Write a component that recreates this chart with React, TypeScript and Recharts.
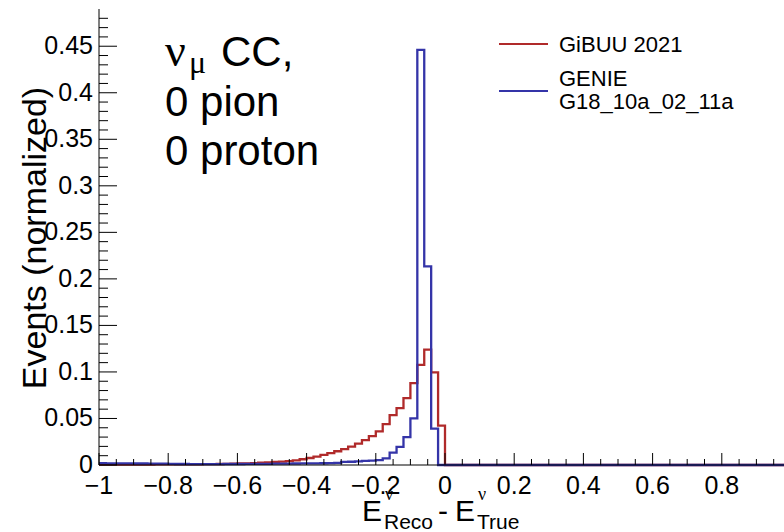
import React from "react";
import { LineChart, Line, XAxis, YAxis, Legend } from "recharts";

// histogram binning: 100 bins of width 0.02 between -1 and 1
const BIN_MIN = -1;
const BIN_MAX = 1;
const BIN_WIDTH = 0.02;

// GiBUU 2021, normalized bin contents (bin 0 starts at -1)
const gibuu = [
  0.0004, 0.0004, 0.0004, 0.0004, 0.0005, 0.0005, 0.0005, 0.0005, 0.0006, 0.0006,
  0.0006, 0.0007, 0.0007, 0.0008, 0.0008, 0.0009, 0.0010, 0.0011, 0.0012, 0.0014,
  0.0016, 0.0018, 0.0021, 0.0024, 0.0028, 0.0032, 0.0037, 0.0042, 0.0050, 0.0062,
  0.0075, 0.0090, 0.0108, 0.0128, 0.0148, 0.0170, 0.0198, 0.0230, 0.0268, 0.0310,
  0.0362, 0.0440, 0.0535, 0.0612, 0.0718, 0.0880, 0.1075, 0.1240, 0.0995, 0.0423,
  0, 0, 0, 0, 0, 0, 0, 0, 0, 0,
  0, 0, 0, 0, 0, 0, 0, 0, 0, 0,
  0, 0, 0, 0, 0, 0, 0, 0, 0, 0,
  0, 0, 0, 0, 0, 0, 0, 0, 0, 0,
  0, 0, 0, 0, 0, 0, 0, 0, 0, 0,
];

// GENIE G18_10a_02_11a
const genie = [
  0.0020, 0.0018, 0.0018, 0.0017, 0.0017, 0.0016, 0.0016, 0.0015, 0.0015, 0.0014,
  0.0012, 0.0011, 0.0011, 0.0010, 0.0010, 0.0010, 0.0010, 0.0010, 0.0011, 0.0011,
  0.0011, 0.0012, 0.0012, 0.0013, 0.0013, 0.0014, 0.0014, 0.0015, 0.0016, 0.0017,
  0.0018, 0.0018, 0.0019, 0.0020, 0.0022, 0.0033, 0.0035, 0.0038, 0.0045, 0.0046,
  0.0052, 0.0072, 0.0132, 0.0195, 0.0300, 0.0500, 0.4460, 0.2135, 0.0390, 0.0000,
  0, 0, 0, 0, 0, 0, 0, 0, 0, 0,
  0, 0, 0, 0, 0, 0, 0, 0, 0, 0,
  0, 0, 0, 0, 0, 0, 0, 0, 0, 0,
  0, 0, 0, 0, 0, 0, 0, 0, 0, 0,
  0, 0, 0, 0, 0, 0, 0, 0, 0, 0,
];

const xMajorTicks = [-1, -0.8, -0.6, -0.4, -0.2, 0, 0.2, 0.4, 0.6, 0.8, 1];
const yMajorTicks = [0, 0.05, 0.1, 0.15, 0.2, 0.25, 0.3, 0.35, 0.4, 0.45];
const X_MINOR_STEP = 0.05;
const Y_MINOR_STEP = 0.01;
const Y_MAX = 0.49;

const legendLines: Record<string, string[]> = {
  gibuu: ["GiBUU 2021"],
  genie: ["GENIE", "G18_10a_02_11a"],
};

const annotationLines = ["CC,", "0 pion", "0 proton"];

const RED = "#b02a2a";
const BLUE = "#3434a8";
const FONT = "'Liberation Sans', Arial, Helvetica, sans-serif";
const SERIF = "'Liberation Serif', 'DejaVu Serif', serif";
const PAGE_W = 784;

// step points: one per bin left edge, plus the closing right edge
const histData = gibuu.map((g, i) => ({
  x: BIN_MIN + i * BIN_WIDTH,
  gibuu: g,
  genie: genie[i],
}));
histData.push({ x: BIN_MAX, gibuu: gibuu[gibuu.length - 1], genie: genie[genie.length - 1] });

const xTicks: number[] = [];
for (let k = 0; k <= Math.round((BIN_MAX - BIN_MIN) / X_MINOR_STEP); k++) {
  xTicks.push(Math.round((BIN_MIN + k * X_MINOR_STEP) * 100) / 100);
}
const yTicks: number[] = [];
for (let k = 0; k < Math.round(Y_MAX / Y_MINOR_STEP); k++) {
  yTicks.push(Math.round(k * Y_MINOR_STEP * 100) / 100);
}

const isMajor = (v: number, majors: number[]) => majors.some((m) => Math.abs(m - v) < 1e-6);
const fmt = (v: number) => String(Math.round(v * 100) / 100).replace("-", "\u2212");

function XTick(props: any) {
  const { x, y, payload } = props;
  const major = isMajor(payload.value, xMajorTicks);
  // the label of the last tick falls outside the page, like in the original canvas
  const showLabel = major && x < PAGE_W - 10;
  return (
    <g>
      <line x1={x} x2={x} y1={y} y2={y - (major ? 12 : 6)} stroke="#000" strokeWidth={1} />
      {showLabel && (
        <text x={x} y={y + 29} textAnchor="middle" fontSize={25} fontFamily={FONT} fill="#000">
          {fmt(payload.value)}
        </text>
      )}
    </g>
  );
}

function YTick(props: any) {
  const { x, y, payload } = props;
  const major = isMajor(payload.value, yMajorTicks);
  return (
    <g>
      <line x1={x} x2={x + (major ? 18 : 9)} y1={y} y2={y} stroke="#000" strokeWidth={1} />
      {major && (
        <text x={x - 6} y={y + 8} textAnchor="end" fontSize={25} fontFamily={FONT} fill="#000">
          {fmt(payload.value)}
        </text>
      )}
    </g>
  );
}

const renderXTitle = () => (
  <text fontFamily={FONT} fill="#000">
    <tspan x={362} y={521} fontSize={30}>E</tspan>
    <tspan x={385} y={500} fontSize={18} fontFamily={SERIF}>ν</tspan>
    <tspan x={384} y={529} fontSize={21}>Reco</tspan>
    <tspan x={438} y={521} fontSize={30}>-</tspan>
    <tspan x={455} y={521} fontSize={30}>E</tspan>
    <tspan x={478} y={500} fontSize={18} fontFamily={SERIF}>ν</tspan>
    <tspan x={477} y={529} fontSize={21}>True</tspan>
  </text>
);

const renderYTitle = () => (
  <text
    x={46}
    y={238}
    transform="rotate(-90 46 238)"
    textAnchor="middle"
    fontSize={34}
    fontFamily={FONT}
    fill="#000"
  >
    Events (normalized)
  </text>
);

function HistLegend(props: any) {
  const items = props.payload || [];
  return (
    <svg width={304} height={100}>
      {items.map((item: any) => {
        const lines = legendLines[item.dataKey] || [item.value];
        const top = item.dataKey === "gibuu" ? 32 : 65.5;
        const lineY = item.dataKey === "gibuu" ? 24 : 71;
        return (
          <g key={item.dataKey}>
            <line x1={19} x2={68} y1={lineY} y2={lineY} stroke={item.color} strokeWidth={2} />
            {lines.map((t, i) => (
              <text key={t} x={79} y={top + i * 23.5} fontSize={22} fontFamily={FONT} fill="#000">
                {t}
              </text>
            ))}
          </g>
        );
      })}
    </svg>
  );
}

export default function App() {
  return (
    <div
      style={{
        position: "absolute",
        left: 0,
        top: 0,
        width: PAGE_W,
        height: 532,
        overflow: "hidden",
        background: "#fff",
      }}
    >
      <LineChart width={800} height={532} data={histData} margin={{ top: 9, right: 9, left: 0, bottom: 0 }}>
        <XAxis
          dataKey="x"
          type="number"
          domain={[BIN_MIN, BIN_MAX]}
          ticks={xTicks}
          interval={0}
          height={67}
          tickSize={0}
          tickMargin={0}
          tickLine={false}
          tick={(p: any) => <XTick {...p} />}
          axisLine={{ stroke: "#000", strokeWidth: 1 }}
          label={renderXTitle}
        />
        <YAxis
          type="number"
          domain={[0, Y_MAX]}
          ticks={yTicks}
          interval={0}
          width={99}
          tickSize={0}
          tickMargin={0}
          tickLine={false}
          tick={(p: any) => <YTick {...p} />}
          axisLine={{ stroke: "#000", strokeWidth: 1 }}
          label={renderYTitle}
        />
        <Legend
          layout="vertical"
          align="center"
          verticalAlign="middle"
          wrapperStyle={{ left: 480, top: 20, width: 304, height: 100 }}
          content={(p: any) => <HistLegend {...p} />}
        />
        <Line
          type="stepAfter"
          dataKey="gibuu"
          name="GiBUU 2021"
          stroke={RED}
          strokeWidth={2.3}
          dot={false}
          activeDot={false}
          isAnimationActive={false}
        />
        <Line
          type="stepAfter"
          dataKey="genie"
          name="GENIE G18_10a_02_11a"
          stroke={BLUE}
          strokeWidth={2.3}
          dot={false}
          activeDot={false}
          isAnimationActive={false}
        />
      </LineChart>
      <svg
        width={PAGE_W}
        height={532}
        style={{ position: "absolute", left: 0, top: 0, pointerEvents: "none" }}
      >
        <text fontFamily={FONT} fontSize={42} fill="#000">
          <tspan x={165} y={66} fontSize={46} fontFamily={SERIF}>ν</tspan>
          <tspan x={189} y={73} fontSize={32} fontFamily={SERIF}>μ</tspan>
          <tspan x={221} y={66}>{annotationLines[0]}</tspan>
          <tspan x={165} y={116}>{annotationLines[1]}</tspan>
          <tspan x={165} y={165}>{annotationLines[2]}</tspan>
        </text>
      </svg>
    </div>
  );
}
